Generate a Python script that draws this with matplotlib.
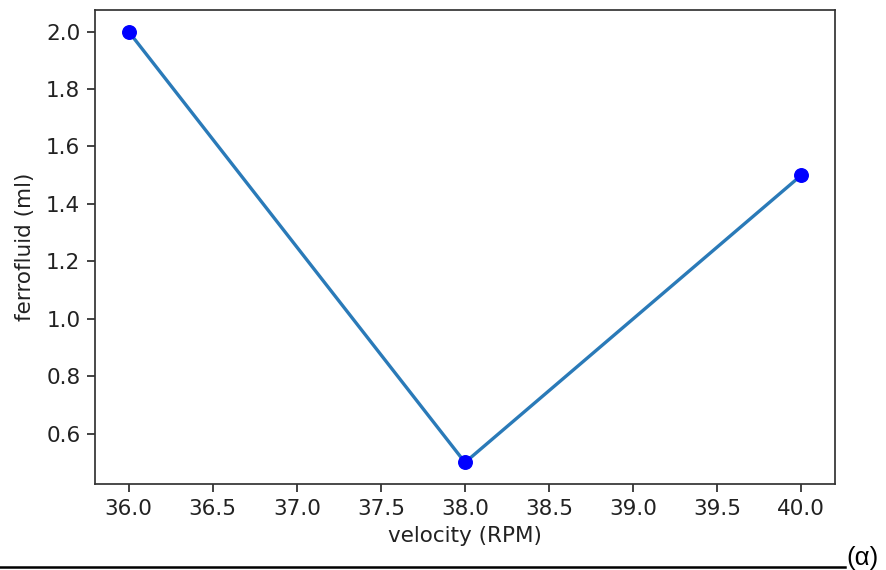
import matplotlib.pyplot as plt
from matplotlib.lines import Line2D

# data
velocity = [36, 38, 40]
ferrofluid = [2.0, 0.5, 1.5]
x_ticks = [36.0, 36.5, 37.0, 37.5, 38.0, 38.5, 39.0, 39.5, 40.0]
y_ticks = [0.6, 0.8, 1.0, 1.2, 1.4, 1.6, 1.8, 2.0]

fs = 15.5
fig = plt.figure(figsize=(8.86, 5.70), dpi=100)
ax = fig.add_axes([95 / 886, 1 - 484 / 570, 740 / 886, 474 / 570])

ax.plot(velocity, ferrofluid, color='#2a7ab8', lw=2.4)
ax.scatter(velocity, ferrofluid, color='blue', s=95, zorder=3)

ax.set_xlim(35.8, 40.2)
ax.set_ylim(0.425, 2.075)
ax.set_xticks(x_ticks)
ax.set_xticklabels([f'{v:.1f}' for v in x_ticks])
ax.set_yticks(y_ticks)
ax.set_yticklabels([f'{v:.1f}' for v in y_ticks])
ax.tick_params(labelsize=fs, length=5.5, width=1.2, colors='#222222', pad=5)
for s in ax.spines.values():
    s.set_linewidth(1.25)
    s.set_color('#333333')

ax.set_xlabel('velocity (RPM)', fontsize=fs, color='#222222', labelpad=5)
ax.set_ylabel('ferrofluid (ml)', fontsize=fs, color='#222222', labelpad=8)

# underline and caption like the document it came from
fig.add_artist(Line2D([0, 845 / 886], [1 - 567 / 570, 1 - 567 / 570],
                      color='black', lw=1.8, transform=fig.transFigure))
fig.text(846 / 886, 1 - 570 / 570, '(α)', fontsize=18.5, family='Liberation Sans',
         ha='left', va='bottom', color='black')

fig.savefig('out.png', dpi=100)
